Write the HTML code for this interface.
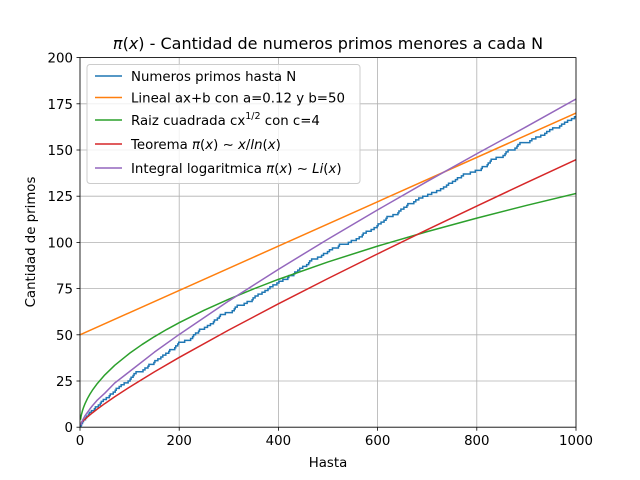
<!DOCTYPE html>
<html><head><meta charset="utf-8"><style>
body{margin:0;background:#fff}
svg{display:block;font-family:"DejaVu Sans","Liberation Sans",sans-serif}
</style></head><body>
<svg id="c" width="640" height="480"></svg>
<script>
const primes=[2,3,5,7,11,13,17,19,23,29,31,37,41,43,47,53,59,61,67,71,73,79,83,89,97,101,103,107,109,113,127,131,137,139,149,151,157,163,167,173,179,181,191,193,197,199,211,223,227,229,233,239,241,251,257,263,269,271,277,281,283,293,307,311,313,317,331,337,347,349,353,359,367,373,379,383,389,397,401,409,419,421,431,433,439,443,449,457,461,463,467,479,487,491,499,503,509,521,523,541,547,557,563,569,571,577,587,593,599,601,607,613,617,619,631,641,643,647,653,659,661,673,677,683,691,701,709,719,727,733,739,743,751,757,761,769,773,787,797,809,811,821,823,827,829,839,853,857,859,863,877,881,883,887,907,911,919,929,937,941,947,953,967,971,977,983,991,997];
const linX=[0,1000];
const linY=[50,170];
const sqrtX=[1,2,3,5,7,10,15,20,25,35,50,70,100,125,150,175,200,250,300,350,400,500,600,700,800,900,1000];
const sqrtY=[4,5.657,6.928,8.944,10.583,12.649,15.492,17.889,20,23.664,28.284,33.466,40,44.721,48.99,52.915,56.569,63.246,69.282,74.833,80,89.443,97.98,105.83,113.137,120,126.491];
const thX=[2,3,5,10,20,25,35,50,70,100,150,200,300,400,500,600,700,800,900,1000];
const thY=[2.885,2.73,3.107,4.343,6.68,7.767,9.84,12.78,16.48,21.71,29.94,37.75,52.6,66.76,80.46,93.79,106.86,119.68,132.31,144.76];
const liX=[2,3,5,10,20,25,35,50,70,100,150,200,300,400,500,600,700,800,900,1000];
const liY=[1.045,2.16,3.63,6.17,9.9,11.6,14.7,18.4,23.9,30.13,40.6,50.19,68.33,85.42,101.79,117.6,132.98,147.97,162.6,177.61];
const xTicks=[0,200,400,600,800,1000];
const yTicks=[0,25,50,75,100,125,150,175,200];

const L=80,R=576,T=57.6,B=427.2;
const sx=v=>L+(R-L)*v/1000, sy=v=>B-(B-T)*v/200;
const svg=document.getElementById('c');const NS='http://www.w3.org/2000/svg';
function mk(tag,attrs,parent){const e=document.createElementNS(NS,tag);for(const k in attrs)e.setAttribute(k,attrs[k]);(parent||svg).appendChild(e);return e;}
xTicks.forEach(t=>{const g=mk('line',{x1:sx(t),x2:sx(t),y1:T,y2:B,stroke:'#b0b0b0','stroke-width':0.8});


const tk=mk('line',{x1:sx(t),x2:sx(t),y1:B,y2:B+3.5,stroke:'#000','stroke-width':0.8});


const tx=mk('text',{x:sx(t),y:B+18,'text-anchor':'middle','font-size':13.33});tx.textContent=t;

});
yTicks.forEach(t=>{const g=mk('line',{x1:L,x2:R,y1:sy(t),y2:sy(t),stroke:'#b0b0b0','stroke-width':0.8});


const tk=mk('line',{x1:L-3.5,x2:L,y1:sy(t),y2:sy(t),stroke:'#000','stroke-width':0.8});


const tx=mk('text',{x:L-7,y:sy(t)+5,'text-anchor':'end','font-size':13.33});tx.textContent=t;

});
function poly(xs,ys,color,name){const d=xs.map((x,i)=>(i?'L':'M')+sx(x).toFixed(2)+','+sy(ys[i]).toFixed(2)).join('');
const p=mk('path',{d:d,fill:'none',stroke:color,'stroke-width':1.5,'stroke-linejoin':'round','clip-path':'url(#clip)'});

}
mk('clipPath',{id:'clip'});mk('rect',{x:L,y:T,width:R-L,height:B-T},svg.lastChild);
let d='M'+sx(1)+','+sy(0);let cnt=0;
primes.forEach(p=>{d+='L'+sx(p).toFixed(2)+','+sy(cnt).toFixed(2);cnt++;d+='L'+sx(p).toFixed(2)+','+sy(cnt).toFixed(2);});
d+='L'+sx(1000)+','+sy(cnt).toFixed(2);
const pp=mk('path',{d:d,fill:'none',stroke:'#1f77b4','stroke-width':1.5,'clip-path':'url(#clip)'});


poly(linX,linY,'#ff7f0e','linear-line');
poly(sqrtX,sqrtY,'#2ca02c','sqrt-line');
poly(thX,thY,'#d62728','theorem-line');
poly(liX,liY,'#9467bd','li-line');
const fr=mk('rect',{x:L,y:T,width:R-L,height:B-T,fill:'none',stroke:'#000','stroke-width':0.8});


</script>
<svg width="640" height="480" style="position:absolute;left:0;top:0">
<text x="328" y="49" text-anchor="middle" font-size="16"><tspan font-style="italic">π</tspan>(<tspan font-style="italic">x</tspan>) - Cantidad de numeros primos menores a cada N</text>
<text x="328" y="467" text-anchor="middle" font-size="13.33">Hasta</text>
<text transform="translate(35,242) rotate(-90)" text-anchor="middle" font-size="13.33">Cantidad de primos</text>
<g>
<rect x="87" y="64.5" width="273" height="119" rx="3" fill="#fff" fill-opacity="0.8" stroke="#ccc"/>
<line x1="95" x2="122" y1="76" y2="76" stroke="#1f77b4" stroke-width="1.5"/>
<text x="131" y="81" font-size="13.33">Numeros primos hasta N</text>
<line x1="95" x2="122" y1="97.5" y2="97.5" stroke="#ff7f0e" stroke-width="1.5"/>
<text x="131" y="102.5" font-size="13.33">Lineal ax+b con a=0.12 y b=50</text>
<line x1="95" x2="122" y1="120" y2="120" stroke="#2ca02c" stroke-width="1.5"/>
<text x="131" y="125" font-size="13.33">Raiz cuadrada cx<tspan font-size="9.5" dy="-6">1/2</tspan><tspan dy="6"> con c=4</tspan></text>
<line x1="95" x2="122" y1="144" y2="144" stroke="#d62728" stroke-width="1.5"/>
<text x="131" y="149" font-size="13.33">Teorema <tspan font-style="italic">π</tspan>(<tspan font-style="italic">x</tspan>) ∼ <tspan font-style="italic">x</tspan>/<tspan font-style="italic">ln</tspan>(<tspan font-style="italic">x</tspan>)</text>
<line x1="95" x2="122" y1="168" y2="168" stroke="#9467bd" stroke-width="1.5"/>
<text x="131" y="173" font-size="13.33">Integral logaritmica <tspan font-style="italic">π</tspan>(<tspan font-style="italic">x</tspan>) ∼ <tspan font-style="italic">Li</tspan>(<tspan font-style="italic">x</tspan>)</text>
</g>
</svg>
</body></html>
